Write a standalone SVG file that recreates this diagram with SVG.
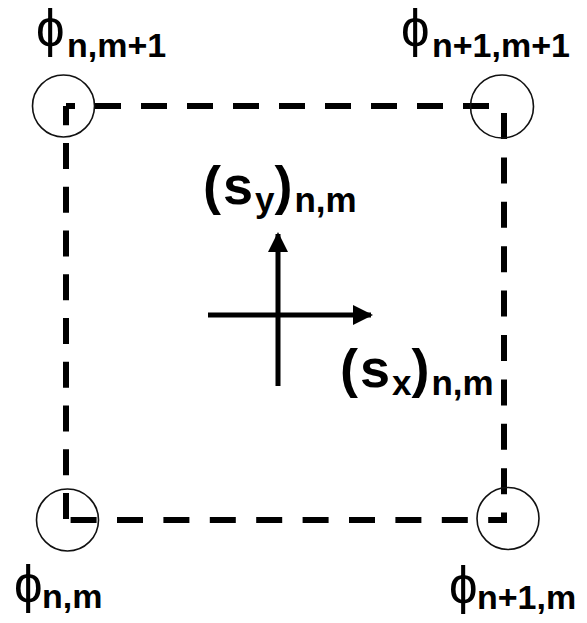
<svg xmlns="http://www.w3.org/2000/svg" width="587" height="623" viewBox="0 0 587 623">
<style>
.phi{font-family:"Liberation Sans",Arial,sans-serif;font-size:51px;fill:#000}
.sub{font-family:"Liberation Sans",Arial,sans-serif;font-weight:bold;font-size:34px;fill:#000}
.ssub{font-family:"Liberation Sans",Arial,sans-serif;font-weight:bold;font-size:35px;fill:#000}
.big{font-family:"Liberation Sans",Arial,sans-serif;font-weight:bold;font-size:54px;fill:#000;letter-spacing:2px}
.node{fill:none;stroke:#111;stroke-width:1.6}
.edge{fill:none;stroke:#000;stroke-width:6}
.axis{fill:none;stroke:#000;stroke-width:5}
</style>
<defs>
<marker id="ah" viewBox="0 0 10 10" refX="9" refY="5" markerWidth="4.2" markerHeight="4" orient="auto" markerUnits="strokeWidth">
<path d="M0,0 L10,5 L0,10 Z" fill="#000"/>
</marker>
</defs>
<rect width="587" height="623" fill="#fff"/>
<g id="connectors">
<line class="edge" x1="66" y1="106" x2="504" y2="106" stroke-dasharray="26 20" stroke-dashoffset="17"/>
<line class="edge" x1="66" y1="520" x2="504" y2="520" stroke-dasharray="26 20.4" stroke-dashoffset="41.8"/>
<line class="edge" x1="66" y1="106" x2="66" y2="520" stroke-dasharray="26 17.75" stroke-dashoffset="6.75"/>
<line class="edge" x1="504" y1="106" x2="504" y2="523" stroke-dasharray="26 18.4" stroke-dashoffset="37.4"/>
</g>
<g id="node-nm1">
<circle class="node" cx="63.5" cy="106" r="31"/>
<text class="phi" x="36" y="46">ϕ</text><text class="sub" x="67" y="57">n,m+1</text>
</g>
<g id="node-n1m1">
<circle class="node" cx="502" cy="106.5" r="31.5"/>
<text class="phi" x="401" y="46">ϕ</text><text class="sub" x="432" y="57">n+1,m+1</text>
</g>
<g id="node-nm">
<circle class="node" cx="67.5" cy="520" r="31"/>
<text class="phi" x="14" y="602">ϕ</text><text class="sub" x="42" y="608">n,m</text>
</g>
<g id="node-n1m">
<circle class="node" cx="508" cy="518.5" r="31"/>
<text class="phi" x="449" y="603">ϕ</text><text class="sub" x="477" y="609">n+1,m</text>
</g>
<g id="center">
<line class="axis" x1="278" y1="386" x2="278" y2="234" marker-end="url(#ah)"/>
<line class="axis" x1="208" y1="315" x2="371" y2="315" marker-end="url(#ah)"/>
<text x="203" y="204"><tspan class="big">(s</tspan><tspan class="ssub" dy="8">y</tspan><tspan class="big" dy="-8">)</tspan><tspan class="ssub" dy="8">n,m</tspan></text>
<text x="340" y="387"><tspan class="big">(s</tspan><tspan class="ssub" dy="8">x</tspan><tspan class="big" dy="-8">)</tspan><tspan class="ssub" dy="8">n,m</tspan></text>
</g>
</svg>
